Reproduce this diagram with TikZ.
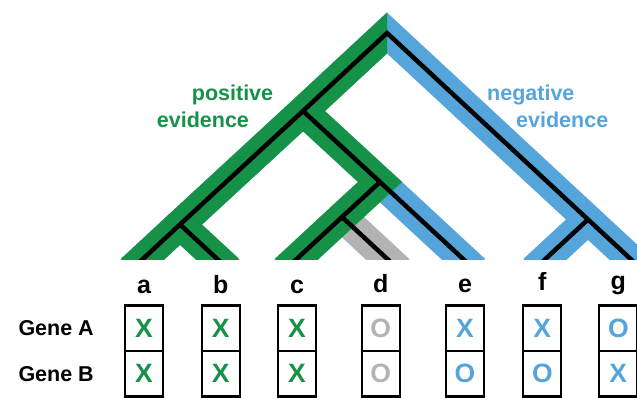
\documentclass[tikz,border=0pt]{standalone}
\usepackage{fontspec}
\setmainfont{Liberation Sans}
\definecolor{evgreen}{RGB}{22,146,72}
\definecolor{evblue}{RGB}{86,165,218}
\definecolor{evgray}{RGB}{179,179,179}
\begin{document}
\begin{tikzpicture}[x=1pt,y=-1pt,
  band/.style={line width=30pt, line join=miter, line cap=butt},
  treeline/.style={line width=4.5pt, black, line join=miter, line cap=butt},
  cell/.style={draw, line width=2.2pt, minimum width=38pt, minimum height=45.5pt, inner sep=0pt,
    font=\fontsize{26.5}{28}\selectfont\bfseries},
  leaf/.style={anchor=base, inner sep=0pt, font=\fontsize{25}{27}\selectfont\bfseries},
  gene/.style={anchor=base west, inner sep=0pt, font=\fontsize{21.5}{24}\selectfont\bfseries},
  ev/.style={anchor=base west, inner sep=0pt, font=\fontsize{21.5}{24}\selectfont\bfseries}]
\useasboundingbox (0,0) rectangle (637,398);
% tree vertices
\coordinate (R) at (387,33);
\coordinate (N1) at (303,111);
\coordinate (N2) at (180,224.5);
\coordinate (N3) at (380,182);
\coordinate (N4) at (342,217);
\coordinate (N5) at (588,219.5);
\coordinate (a) at (131,270);
\coordinate (b) at (229.1,270);
\coordinate (c) at (284.8,270);
\coordinate (d) at (399.2,270);
\coordinate (e) at (475,270);
\coordinate (f) at (533.5,270);
\coordinate (g) at (642.5,270);
\begin{scope}
  \clip (0,0) rectangle (637,259);
  \draw[band, evblue] (a) -- (N2) -- (N1) -- (R) -- (N5) -- (g);
  \draw[band, evblue] (N5) -- (f);
  \draw[band, evblue] (N3) -- (e);
  \draw[band, evgray] (N4) -- (d);
  \begin{scope}
    \clip (0,0) rectangle (387,259);
    \draw[band, evgreen] (a) -- (N2) -- (N1) -- (R) -- (N5);
  \end{scope}
  \draw[band, evgreen] (N2) -- (b);
  \draw[band, evgreen] (N1) -- (N3) -- (N4) -- (c);
  \draw[treeline] (a) -- (N2) -- (N1) -- (R) -- (N5) -- (g);
  \draw[treeline] (N2) -- (b);
  \draw[treeline] (N1) -- (N3) -- (e);
  \draw[treeline] (N3) -- (N4) -- (c);
  \draw[treeline] (N4) -- (d);
  \draw[treeline] (N5) -- (f);
\end{scope}
% evidence labels
\node[ev, text=evgreen] (pos1) at (191.7,101) {positive};
\node[ev, text=evgreen] (pos2) at (156.7,127.5) {evidence};
\node[ev, text=evblue] (neg1) at (487,101) {negative};
\node[ev, text=evblue] (neg2) at (516,127.5) {evidence};
% leaf labels
\node[leaf] (la) at (144,293) {a};
\node[leaf] (lb) at (220.7,293) {b};
\node[leaf] (lc) at (297,293) {c};
\node[leaf] (ld) at (380.7,292) {d};
\node[leaf] (le) at (465,292) {e};
\node[leaf] (lf) at (542.3,290) {f};
\node[leaf] (lg) at (618.3,289) {g};
% gene labels
\node[gene] (gA) at (18.3,335.7) {Gene A};
\node[gene] (gB) at (18.3,381.7) {Gene B};
% cells
\node[cell, text=evgreen] (ca1) at (144,328.25) {X};
\node[cell, text=evgreen] (ca2) at (144,373.75) {X};
\node[cell, text=evgreen] (cb1) at (220.7,328.25) {X};
\node[cell, text=evgreen] (cb2) at (220.7,373.75) {X};
\node[cell, text=evgreen] (cc1) at (297,328.25) {X};
\node[cell, text=evgreen] (cc2) at (297,373.75) {X};
\node[cell, text=evgray] (cd1) at (380.7,328.25) {O};
\node[cell, text=evgray] (cd2) at (380.7,373.75) {O};
\node[cell, text=evblue] (ce1) at (465,328.25) {X};
\node[cell, text=evblue] (ce2) at (465,373.75) {O};
\node[cell, text=evblue] (cf1) at (542.3,328.25) {X};
\node[cell, text=evblue] (cf2) at (542.3,373.75) {O};
\node[cell, text=evblue] (cg1) at (618.3,328.25) {O};
\node[cell, text=evblue] (cg2) at (618.3,373.75) {X};
\end{tikzpicture}
\end{document}
